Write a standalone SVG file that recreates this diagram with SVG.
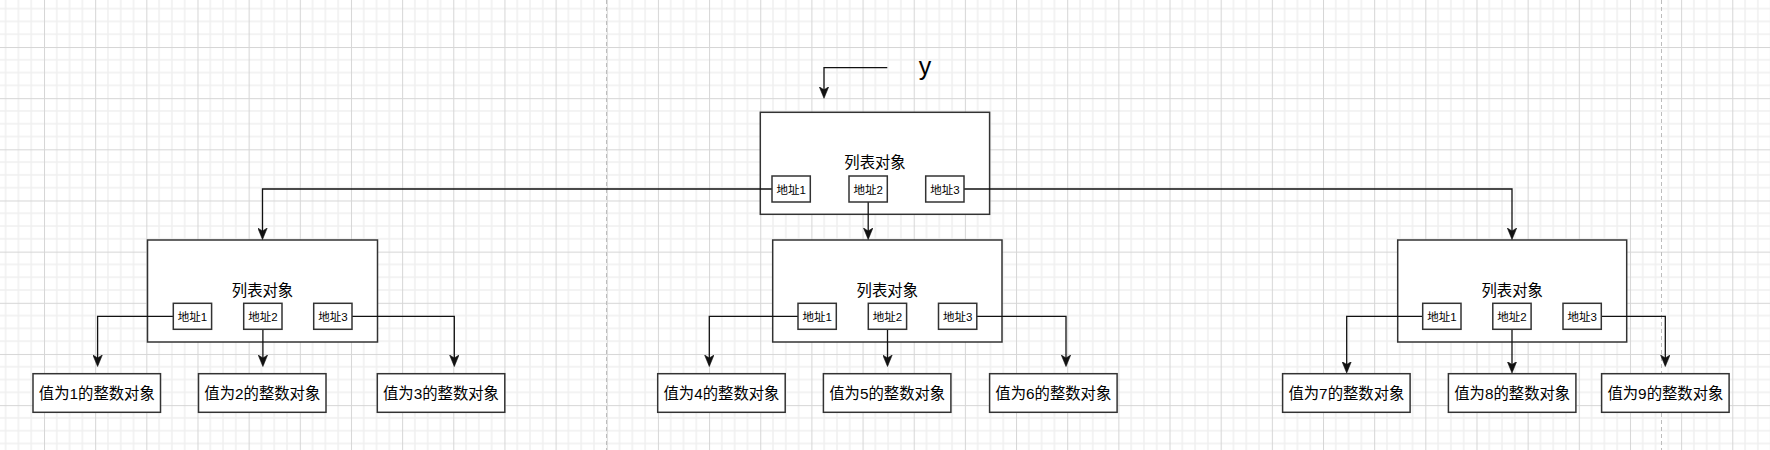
<svg xmlns="http://www.w3.org/2000/svg" width="1770" height="450" viewBox="0 0 1770 450">
<style>
  .box { fill: #ffffff; stroke: #333333; stroke-width: 1.5; }
  .edge { fill: none; stroke: #111111; stroke-width: 1.3; }
  .title { font-family: "Liberation Sans", "Noto Sans CJK SC", sans-serif; font-size: 15.35px; fill: #000; text-anchor: middle; }
  .addr { font-family: "Liberation Sans", "Noto Sans CJK SC", sans-serif; font-size: 11.5px; fill: #000; text-anchor: middle; }
  .val { font-family: "Liberation Sans", "Noto Sans CJK SC", sans-serif; font-size: 15.35px; fill: #000; text-anchor: middle; }
  .lbl { font-family: "Liberation Sans", "Noto Sans CJK SC", sans-serif; font-size: 25px; fill: #000; text-anchor: middle; }
  .page { stroke: #bdbdbd; stroke-width: 1; stroke-dasharray: 4 3; fill: none; }
</style>
<defs>
  <pattern id="grid" x="44" y="47" width="51.16" height="51.16" patternUnits="userSpaceOnUse">
    <rect x="0" y="0" width="51.16" height="51.16" fill="#ffffff"/>
    <g fill="#f0f0f0">
      <rect x="12.04" y="0" width="1.5" height="51.16"/>
      <rect x="24.83" y="0" width="1.5" height="51.16"/>
      <rect x="37.62" y="0" width="1.5" height="51.16"/>
      <rect x="0" y="12.04" width="51.16" height="1.5"/>
      <rect x="0" y="24.83" width="51.16" height="1.5"/>
      <rect x="0" y="37.62" width="51.16" height="1.5"/>
    </g>
    <g fill="#d6d6d6">
      <rect x="0" y="0" width="1" height="51.16"/>
      <rect x="0" y="0" width="51.16" height="1"/>
    </g>
  </pattern>
  <marker id="arrow" markerUnits="userSpaceOnUse" markerWidth="12" markerHeight="10" viewBox="0 0 12 10" refX="9.5" refY="5" orient="auto">
    <path d="M0,0.3 L11.5,5 L0,9.7 L3,5 Z" fill="#111111" stroke="#111111" stroke-width="0.6" stroke-linejoin="miter"/>
  </marker>
</defs>

<rect x="0" y="0" width="1770" height="450" fill="url(#grid)"/>
<line class="page" x1="606.5" y1="0" x2="606.5" y2="450"/>
<line class="page" x1="1661.5" y1="0" x2="1661.5" y2="450"/>

<!-- list object nodes -->
<g id="list-top">
  <rect class="box" x="760.3" y="112.3" width="229.3" height="102"/>
  <text class="title" x="875" y="168.3">列表对象</text>
</g>
<g id="list-left">
  <rect class="box" x="147.5" y="240" width="230" height="102"/>
  <text class="title" x="262.5" y="295.8">列表对象</text>
</g>
<g id="list-mid">
  <rect class="box" x="772.7" y="240" width="229.3" height="102"/>
  <text class="title" x="887.3" y="295.8">列表对象</text>
</g>
<g id="list-right">
  <rect class="box" x="1397.7" y="240" width="229" height="102"/>
  <text class="title" x="1512.2" y="295.8">列表对象</text>
</g>

<!-- connectors -->
<g id="connectors">
  <polyline class="edge" points="887.3,67.7 824,67.7 824,96.3" marker-end="url(#arrow)"/>
  <polyline class="edge" points="772,189 262.5,189 262.5,237.5" marker-end="url(#arrow)"/>
  <polyline class="edge" points="868.2,202 868.2,237.5" marker-end="url(#arrow)"/>
  <polyline class="edge" points="964,189 1512,189 1512,237.5" marker-end="url(#arrow)"/>

  <polyline class="edge" points="173.3,316.3 97.6,316.3 97.6,364.5" marker-end="url(#arrow)"/>
  <polyline class="edge" points="262.9,329.3 262.9,364.5" marker-end="url(#arrow)"/>
  <polyline class="edge" points="352,316.3 454.3,316.3 454.3,364.5" marker-end="url(#arrow)"/>

  <polyline class="edge" points="798,316.3 709.3,316.3 709.3,364.5" marker-end="url(#arrow)"/>
  <polyline class="edge" points="887.5,329.3 887.5,364.5" marker-end="url(#arrow)"/>
  <polyline class="edge" points="977,316.3 1066,316.3 1066,364.5" marker-end="url(#arrow)"/>

  <polyline class="edge" points="1422.7,316.3 1346.7,316.3 1346.7,371" marker-end="url(#arrow)"/>
  <polyline class="edge" points="1512,329.3 1512,371" marker-end="url(#arrow)"/>
  <polyline class="edge" points="1601.3,316.3 1665.3,316.3 1665.3,364.5" marker-end="url(#arrow)"/>
</g>

<!-- address nodes -->
<g id="top-addr1"><rect class="box" x="772" y="176" width="38.3" height="26"/><text class="addr" x="791.2" y="194">地址1</text></g>
<g id="top-addr2"><rect class="box" x="849" y="176" width="38.3" height="26"/><text class="addr" x="868.2" y="194">地址2</text></g>
<g id="top-addr3"><rect class="box" x="925.7" y="176" width="38.3" height="26"/><text class="addr" x="944.9" y="194">地址3</text></g>

<g id="left-addr1"><rect class="box" x="173.3" y="303.3" width="38.3" height="26"/><text class="addr" x="192.5" y="321.3">地址1</text></g>
<g id="left-addr2"><rect class="box" x="243.7" y="303.3" width="38.3" height="26"/><text class="addr" x="262.9" y="321.3">地址2</text></g>
<g id="left-addr3"><rect class="box" x="313.7" y="303.3" width="38.3" height="26"/><text class="addr" x="332.9" y="321.3">地址3</text></g>

<g id="mid-addr1"><rect class="box" x="798" y="303.3" width="38.3" height="26"/><text class="addr" x="817.2" y="321.3">地址1</text></g>
<g id="mid-addr2"><rect class="box" x="868.3" y="303.3" width="38.3" height="26"/><text class="addr" x="887.5" y="321.3">地址2</text></g>
<g id="mid-addr3"><rect class="box" x="938.5" y="303.3" width="38.3" height="26"/><text class="addr" x="957.7" y="321.3">地址3</text></g>

<g id="right-addr1"><rect class="box" x="1422.7" y="303.3" width="38.3" height="26"/><text class="addr" x="1441.9" y="321.3">地址1</text></g>
<g id="right-addr2"><rect class="box" x="1492.8" y="303.3" width="38.3" height="26"/><text class="addr" x="1512" y="321.3">地址2</text></g>
<g id="right-addr3"><rect class="box" x="1563" y="303.3" width="38.3" height="26"/><text class="addr" x="1582.2" y="321.3">地址3</text></g>

<!-- integer value nodes -->
<g id="int1"><rect class="box" x="33" y="373.7" width="127.5" height="38.6"/><text class="val" x="96.8" y="398.5">值为1的整数对象</text></g>
<g id="int2"><rect class="box" x="198.5" y="373.7" width="127.5" height="38.6"/><text class="val" x="262.3" y="398.5">值为2的整数对象</text></g>
<g id="int3"><rect class="box" x="377.3" y="373.7" width="127.5" height="38.6"/><text class="val" x="441" y="398.5">值为3的整数对象</text></g>
<g id="int4"><rect class="box" x="657.7" y="373.7" width="127.5" height="38.6"/><text class="val" x="721.5" y="398.5">值为4的整数对象</text></g>
<g id="int5"><rect class="box" x="823.4" y="373.7" width="127.5" height="38.6"/><text class="val" x="887.2" y="398.5">值为5的整数对象</text></g>
<g id="int6"><rect class="box" x="989.6" y="373.7" width="127.5" height="38.6"/><text class="val" x="1053.3" y="398.5">值为6的整数对象</text></g>
<g id="int7"><rect class="box" x="1282.6" y="373.7" width="127.5" height="38.6"/><text class="val" x="1346.4" y="398.5">值为7的整数对象</text></g>
<g id="int8"><rect class="box" x="1448.4" y="373.7" width="127.5" height="38.6"/><text class="val" x="1512.2" y="398.5">值为8的整数对象</text></g>
<g id="int9"><rect class="box" x="1601.6" y="373.7" width="127.5" height="38.6"/><text class="val" x="1665.4" y="398.5">值为9的整数对象</text></g>

<!-- variable label -->
<g id="label-y">
  <text class="lbl" x="925" y="75">y</text>
</g>
</svg>
